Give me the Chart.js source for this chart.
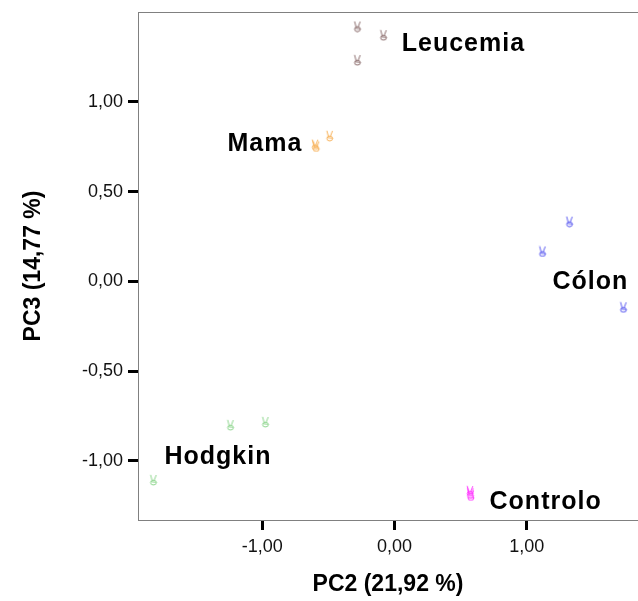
<!DOCTYPE html>
<html>
<head>
<meta charset="utf-8">
<script src="https://cdn.jsdelivr.net/npm/chart.js@4.4.1/dist/chart.umd.min.js"></script>
<style>
  html, body { margin: 0; padding: 0; background: #fff; overflow: hidden; }
  #wrap { width: 638px; height: 601px; }
</style>
</head>
<body>
<div id="wrap"><canvas id="pca"></canvas></div>
<script>
// PCA scores, PC2 (x) vs PC3 (y), three samples per group
const groups = ["Leucemia", "Mama", "Cólon", "Hodgkin", "Controlo"];
const leucemiaPC2 = [-0.28, -0.083, -0.28];
const leucemiaPC3 = [1.42, 1.372, 1.233];
const mamaPC2 = [-0.60, -0.592, -0.49];
const mamaPC3 = [0.762, 0.752, 0.811];
const colonPC2 = [1.324, 1.12, 1.732];
const colonPC3 = [0.333, 0.167, -0.144];
const hodgkinPC2 = [-1.24, -0.976, -1.823];
const hodgkinPC3 = [-0.80, -0.783, -1.106];
const controloPC2 = [0.572, 0.578, 0.575];
const controloPC3 = [-1.168, -1.192, -1.18];
const groupColors = ["#8c6e6e", "#f7b158", "#5c5cf0", "#8fd68f", "#ff3cff"];

// where each group name sits (left edge / baseline, in PC units)
const labelPC2 = [0.055, -1.263, 1.195, -1.74, 0.719];
const labelPC3 = [1.283, 0.724, -0.044, -1.017, -1.267];

const xTicks = [-1, 0, 1];
const yTicks = [-1, -0.5, 0, 0.5, 1];

const xs = [leucemiaPC2, mamaPC2, colonPC2, hodgkinPC2, controloPC2];
const ys = [leucemiaPC3, mamaPC3, colonPC3, hodgkinPC3, controloPC3];

// little victory-hand marker: two raised fingers over a round palm
function handMarker(color) {
  const c = document.createElement("canvas");
  c.width = 10;
  c.height = 12;
  const g = c.getContext("2d");
  g.strokeStyle = color;
  g.fillStyle = "rgba(255,255,255,0.6)";
  g.lineWidth = 1;
  g.lineCap = "round";
  // fingers
  g.beginPath();
  g.moveTo(3.6, 6.5); g.lineTo(2.2, 1.2);
  g.moveTo(5.6, 6.5); g.lineTo(7.6, 1.4);
  g.stroke();
  // palm
  g.beginPath();
  g.ellipse(5, 8.6, 2.9, 2.4, 0, 0, Math.PI * 2);
  g.fill();
  g.stroke();
  // thumb fold
  g.beginPath();
  g.moveTo(3, 7.8); g.lineTo(6.5, 8.2);
  g.stroke();
  return c;
}

const fmt = (v) => v.toFixed(2).replace(".", ",");

const datasets = groups.map((name, i) => ({
  label: name,
  data: xs[i].map((x, j) => ({ x: x, y: ys[i][j] })),
  pointStyle: handMarker(groupColors[i]),
  pointRadius: 5,
  backgroundColor: groupColors[i],
  borderColor: groupColors[i],
}));

// top frame line + group names
const framePlugin = {
  id: "frame",
  afterDatasetsDraw(chart) {
    const { ctx, chartArea, scales } = chart;
    ctx.save();
    ctx.strokeStyle = "#808080";
    ctx.lineWidth = 1;
    ctx.beginPath();
    ctx.moveTo(chartArea.left, chartArea.top + 0.5);
    ctx.lineTo(chartArea.right, chartArea.top + 0.5);
    ctx.stroke();

    ctx.fillStyle = "#000";
    ctx.font = 'bold 25px "Liberation Sans", Arial, sans-serif';
    ctx.letterSpacing = "1px";
    ctx.textAlign = "left";
    ctx.textBaseline = "alphabetic";
    groups.forEach((name, i) => {
      ctx.fillText(name, scales.x.getPixelForValue(labelPC2[i]), scales.y.getPixelForValue(labelPC3[i]));
    });
    ctx.restore();
  },
};

new Chart(document.getElementById("pca"), {
  type: "scatter",
  data: { datasets },
  options: {
    responsive: true,
    maintainAspectRatio: false,
    animation: false,
    layout: { autoPadding: false, padding: { top: 12, right: 0, bottom: 0, left: 0 } },
    plugins: { legend: { display: false }, tooltip: { enabled: false } },
    scales: {
      x: {
        type: "linear",
        min: -1.94,
        max: 1.842,
        afterBuildTicks: (s) => { s.ticks = xTicks.map((v) => ({ value: v })); },
        afterFit: (s) => { s.height = 81; s.paddingLeft = 0; s.paddingRight = 0; },
        grid: { drawOnChartArea: false, tickLength: 10, tickWidth: 3, tickColor: "#000" },
        border: { color: "#808080", width: 1 },
        ticks: {
          padding: 6,
          color: "#111",
          font: { family: '"Liberation Sans", Arial, sans-serif', size: 18 },
          callback: (v) => fmt(v),
        },
        title: {
          display: true,
          text: "PC2 (21,92 %)",
          color: "#000",
          padding: { top: 0, bottom: 3 },
          font: { family: '"Liberation Sans", Arial, sans-serif', size: 23, weight: "bold" },
        },
      },
      y: {
        type: "linear",
        min: -1.329,
        max: 1.501,
        afterBuildTicks: (s) => { s.ticks = yTicks.map((v) => ({ value: v })); },
        afterFit: (s) => { s.width = 138; s.paddingTop = 0; s.paddingBottom = 0; },
        grid: { drawOnChartArea: false, tickLength: 10, tickWidth: 3, tickColor: "#000" },
        border: { color: "#808080", width: 1 },
        ticks: {
          padding: 5,
          color: "#111",
          font: { family: '"Liberation Sans", Arial, sans-serif', size: 18 },
          callback: (v) => fmt(v),
        },
        title: {
          display: true,
          text: "PC3 (14,77 %)",
          color: "#000",
          padding: { top: 20, bottom: 0 },
          font: { family: '"Liberation Sans", Arial, sans-serif', size: 23, weight: "bold" },
        },
      },
    },
  },
  plugins: [framePlugin],
});
</script>
</body>
</html>
